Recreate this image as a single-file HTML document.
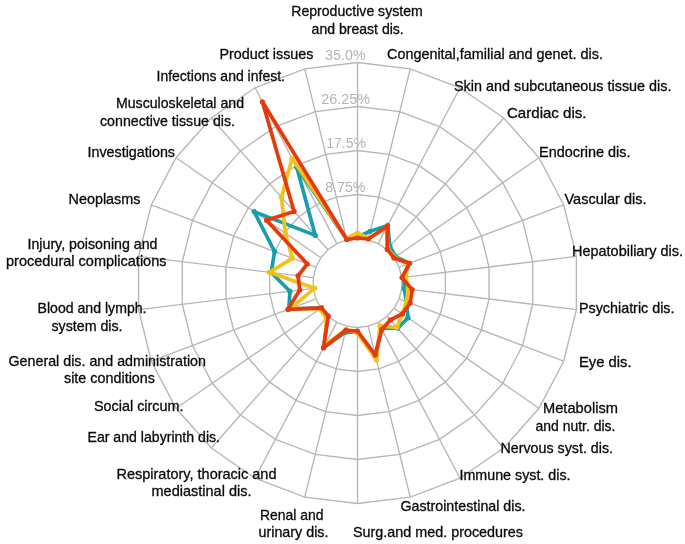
<!DOCTYPE html>
<html><head><meta charset="utf-8"><title>Radar chart</title>
<style>
html,body{margin:0;padding:0;background:#fff;}
body{width:685px;height:544px;overflow:hidden;}
svg{display:block;filter:blur(0.45px);}
text{font-family:"Liberation Sans",Arial,sans-serif;}
.lab{font-size:14.3px;fill:#0a0a0a;stroke:#0a0a0a;stroke-width:0.3px;}
.tick{font-size:14.3px;fill:#b4b4b4;}
</style></head><body>
<svg width="685" height="544" viewBox="0 0 685 544">
<rect width="685" height="544" fill="#ffffff"/>
<g fill="none" stroke="#b6b6b6" stroke-width="1.35">
<polygon points="357.50,238.50 368.15,239.79 378.18,243.60 387.01,249.69 394.12,257.72 399.11,267.22 401.68,277.64 401.68,288.36 399.11,298.78 394.12,308.28 387.01,316.31 378.18,322.40 368.15,326.21 357.50,327.50 346.85,326.21 336.82,322.40 327.99,316.31 320.88,308.28 315.89,298.78 313.32,288.36 313.32,277.64 315.89,267.22 320.88,257.72 327.99,249.69 336.82,243.60 346.85,239.79"/>
<polygon points="357.50,194.50 378.68,197.07 398.63,204.64 416.19,216.76 430.33,232.73 440.25,251.62 445.35,272.33 445.35,293.67 440.25,314.38 430.33,333.27 416.19,349.24 398.63,361.36 378.68,368.93 357.50,371.50 336.32,368.93 316.37,361.36 298.81,349.24 284.67,333.27 274.75,314.38 269.65,293.67 269.65,272.33 274.75,251.62 284.67,232.73 298.81,216.76 316.37,204.64 336.32,197.07"/>
<polygon points="357.50,150.50 389.21,154.35 419.08,165.68 445.36,183.82 466.55,207.73 481.39,236.01 489.03,267.03 489.03,298.97 481.39,329.99 466.55,358.27 445.36,382.18 419.08,400.32 389.21,411.65 357.50,415.50 325.79,411.65 295.92,400.32 269.64,382.18 248.45,358.27 233.61,329.99 225.97,298.97 225.97,267.03 233.61,236.01 248.45,207.73 269.64,183.82 295.92,165.68 325.79,154.35"/>
<polygon points="357.50,106.50 399.74,111.63 439.52,126.72 474.54,150.89 502.76,182.74 522.53,220.41 532.71,261.73 532.71,304.27 522.53,345.59 502.76,383.26 474.54,415.11 439.52,439.28 399.74,454.37 357.50,459.50 315.26,454.37 275.48,439.28 240.46,415.11 212.24,383.26 192.47,345.59 182.29,304.27 182.29,261.73 192.47,220.41 212.24,182.74 240.46,150.89 275.48,126.72 315.26,111.63"/>
<polygon points="357.50,62.50 410.27,68.91 459.97,87.76 503.72,117.95 538.97,157.74 563.67,204.81 576.39,256.42 576.39,309.58 563.67,361.19 538.97,408.26 503.72,448.05 459.97,478.24 410.27,497.09 357.50,503.50 304.73,497.09 255.03,478.24 211.28,448.05 176.03,408.26 151.33,361.19 138.61,309.58 138.61,256.42 151.33,204.81 176.03,157.74 211.28,117.95 255.03,87.76 304.73,68.91"/>
<line x1="357.50" y1="238.50" x2="357.50" y2="62.50"/>
<line x1="368.15" y1="239.79" x2="410.27" y2="68.91"/>
<line x1="378.18" y1="243.60" x2="459.97" y2="87.76"/>
<line x1="387.01" y1="249.69" x2="503.72" y2="117.95"/>
<line x1="394.12" y1="257.72" x2="538.97" y2="157.74"/>
<line x1="399.11" y1="267.22" x2="563.67" y2="204.81"/>
<line x1="401.68" y1="277.64" x2="576.39" y2="256.42"/>
<line x1="401.68" y1="288.36" x2="576.39" y2="309.58"/>
<line x1="399.11" y1="298.78" x2="563.67" y2="361.19"/>
<line x1="394.12" y1="308.28" x2="538.97" y2="408.26"/>
<line x1="387.01" y1="316.31" x2="503.72" y2="448.05"/>
<line x1="378.18" y1="322.40" x2="459.97" y2="478.24"/>
<line x1="368.15" y1="326.21" x2="410.27" y2="497.09"/>
<line x1="357.50" y1="327.50" x2="357.50" y2="503.50"/>
<line x1="346.85" y1="326.21" x2="304.73" y2="497.09"/>
<line x1="336.82" y1="322.40" x2="255.03" y2="478.24"/>
<line x1="327.99" y1="316.31" x2="211.28" y2="448.05"/>
<line x1="320.88" y1="308.28" x2="176.03" y2="408.26"/>
<line x1="315.89" y1="298.78" x2="151.33" y2="361.19"/>
<line x1="313.32" y1="288.36" x2="138.61" y2="309.58"/>
<line x1="313.32" y1="277.64" x2="138.61" y2="256.42"/>
<line x1="315.89" y1="267.22" x2="151.33" y2="204.81"/>
<line x1="320.88" y1="257.72" x2="176.03" y2="157.74"/>
<line x1="327.99" y1="249.69" x2="211.28" y2="117.95"/>
<line x1="336.82" y1="243.60" x2="255.03" y2="87.76"/>
<line x1="346.85" y1="239.79" x2="304.73" y2="68.91"/>
</g>
<path d="M357.5 237.0 L370.2 231.3 L387.7 225.4 L389.9 246.4 L395.6 256.7 L409.5 263.3 L404.0 277.4 L404.3 288.7 L406.4 301.5 L408.0 317.9 L397.6 328.2 L381.4 328.5 L375.3 355.1 L357.5 332.0 L345.4 332.3 L323.8 347.1 L327.6 316.7 L321.5 307.9 L288.9 309.0 L289.9 291.2 L271.2 272.5 L274.6 251.5 L254.1 211.6 L315.3 235.4 L296.8 167.3 L346.8 239.5 Z" fill="none" stroke="#169eaa" stroke-width="3.7" stroke-linejoin="round"/>
<g fill="#169eaa"><circle cx="357.5" cy="237.0" r="2.6"/><circle cx="370.2" cy="231.3" r="2.6"/><circle cx="387.7" cy="225.4" r="2.6"/><circle cx="389.9" cy="246.4" r="2.6"/><circle cx="395.6" cy="256.7" r="2.6"/><circle cx="409.5" cy="263.3" r="2.6"/><circle cx="404.0" cy="277.4" r="2.6"/><circle cx="404.3" cy="288.7" r="2.6"/><circle cx="406.4" cy="301.5" r="2.6"/><circle cx="408.0" cy="317.9" r="2.6"/><circle cx="397.6" cy="328.2" r="2.6"/><circle cx="381.4" cy="328.5" r="2.6"/><circle cx="375.3" cy="355.1" r="2.6"/><circle cx="357.5" cy="332.0" r="2.6"/><circle cx="345.4" cy="332.3" r="2.6"/><circle cx="323.8" cy="347.1" r="2.6"/><circle cx="327.6" cy="316.7" r="2.6"/><circle cx="321.5" cy="307.9" r="2.6"/><circle cx="288.9" cy="309.0" r="2.6"/><circle cx="289.9" cy="291.2" r="2.6"/><circle cx="271.2" cy="272.5" r="2.6"/><circle cx="274.6" cy="251.5" r="2.6"/><circle cx="254.1" cy="211.6" r="2.6"/><circle cx="315.3" cy="235.4" r="2.6"/><circle cx="296.8" cy="167.3" r="2.6"/><circle cx="346.8" cy="239.5" r="2.6"/></g>
<path d="M357.5 233.0 L368.6 238.1 L386.3 228.0 L387.9 248.6 L394.7 257.3 L407.6 264.0 L406.0 277.1 L408.2 289.2 L406.4 301.5 L402.3 313.9 L396.9 327.5 L380.0 325.8 L376.5 359.9 L357.5 333.0 L346.1 329.3 L324.8 345.4 L326.3 318.2 L319.9 309.0 L290.7 308.3 L314.7 288.2 L269.3 272.3 L292.3 258.3 L285.4 233.2 L281.5 197.2 L292.1 158.5 L346.5 238.5 Z" fill="none" stroke="#f0c21c" stroke-width="3.7" stroke-linejoin="round"/>
<g fill="#f0c21c"><circle cx="357.5" cy="233.0" r="2.6"/><circle cx="368.6" cy="238.1" r="2.6"/><circle cx="386.3" cy="228.0" r="2.6"/><circle cx="387.9" cy="248.6" r="2.6"/><circle cx="394.7" cy="257.3" r="2.6"/><circle cx="407.6" cy="264.0" r="2.6"/><circle cx="406.0" cy="277.1" r="2.6"/><circle cx="408.2" cy="289.2" r="2.6"/><circle cx="406.4" cy="301.5" r="2.6"/><circle cx="402.3" cy="313.9" r="2.6"/><circle cx="396.9" cy="327.5" r="2.6"/><circle cx="380.0" cy="325.8" r="2.6"/><circle cx="376.5" cy="359.9" r="2.6"/><circle cx="357.5" cy="333.0" r="2.6"/><circle cx="346.1" cy="329.3" r="2.6"/><circle cx="324.8" cy="345.4" r="2.6"/><circle cx="326.3" cy="318.2" r="2.6"/><circle cx="319.9" cy="309.0" r="2.6"/><circle cx="290.7" cy="308.3" r="2.6"/><circle cx="314.7" cy="288.2" r="2.6"/><circle cx="269.3" cy="272.3" r="2.6"/><circle cx="292.3" cy="258.3" r="2.6"/><circle cx="285.4" cy="233.2" r="2.6"/><circle cx="281.5" cy="197.2" r="2.6"/><circle cx="292.1" cy="158.5" r="2.6"/><circle cx="346.5" cy="238.5" r="2.6"/></g>
<path d="M357.5 238.0 L368.3 239.0 L387.3 226.3 L387.3 249.4 L393.9 257.9 L409.5 263.3 L402.0 277.6 L412.2 289.6 L410.1 303.0 L402.3 313.9 L390.3 320.0 L381.8 329.4 L375.3 355.1 L357.5 331.0 L345.8 330.3 L323.4 348.0 L328.3 316.0 L321.5 307.9 L287.9 309.4 L299.8 290.0 L298.0 275.8 L307.3 264.0 L266.5 220.2 L294.1 211.5 L262.4 101.8 L346.8 239.5 Z" fill="none" stroke="#e63a0c" stroke-width="3.7" stroke-linejoin="round"/>
<g fill="#e63a0c"><circle cx="357.5" cy="238.0" r="2.6"/><circle cx="368.3" cy="239.0" r="2.6"/><circle cx="387.3" cy="226.3" r="2.6"/><circle cx="387.3" cy="249.4" r="2.6"/><circle cx="393.9" cy="257.9" r="2.6"/><circle cx="409.5" cy="263.3" r="2.6"/><circle cx="402.0" cy="277.6" r="2.6"/><circle cx="412.2" cy="289.6" r="2.6"/><circle cx="410.1" cy="303.0" r="2.6"/><circle cx="402.3" cy="313.9" r="2.6"/><circle cx="390.3" cy="320.0" r="2.6"/><circle cx="381.8" cy="329.4" r="2.6"/><circle cx="375.3" cy="355.1" r="2.6"/><circle cx="357.5" cy="331.0" r="2.6"/><circle cx="345.8" cy="330.3" r="2.6"/><circle cx="323.4" cy="348.0" r="2.6"/><circle cx="328.3" cy="316.0" r="2.6"/><circle cx="321.5" cy="307.9" r="2.6"/><circle cx="287.9" cy="309.4" r="2.6"/><circle cx="299.8" cy="290.0" r="2.6"/><circle cx="298.0" cy="275.8" r="2.6"/><circle cx="307.3" cy="264.0" r="2.6"/><circle cx="266.5" cy="220.2" r="2.6"/><circle cx="294.1" cy="211.5" r="2.6"/><circle cx="262.4" cy="101.8" r="2.6"/><circle cx="346.8" cy="239.5" r="2.6"/></g>
<text class="lab" x="291.3" y="16.0" textLength="131.4" lengthAdjust="spacingAndGlyphs">Reproductive system</text>
<text class="lab" x="311.6" y="34.0" textLength="92.2" lengthAdjust="spacingAndGlyphs">and breast dis.</text>
<text class="lab" x="219.4" y="59.2" textLength="94.1" lengthAdjust="spacingAndGlyphs">Product issues</text>
<text class="lab" x="387.0" y="59.4" textLength="216.0" lengthAdjust="spacingAndGlyphs">Congenital,familial and genet. dis.</text>
<text class="lab" x="156.5" y="81.0" textLength="128.5" lengthAdjust="spacingAndGlyphs">Infections and infest.</text>
<text class="lab" x="454.0" y="90.5" textLength="217.5" lengthAdjust="spacingAndGlyphs">Skin and subcutaneous tissue dis.</text>
<text class="lab" x="116.0" y="107.8" textLength="128.0" lengthAdjust="spacingAndGlyphs">Musculoskeletal and</text>
<text class="lab" x="100.0" y="125.5" textLength="135.0" lengthAdjust="spacingAndGlyphs">connective tissue dis.</text>
<text class="lab" x="507.0" y="117.5" textLength="79.5" lengthAdjust="spacingAndGlyphs">Cardiac dis.</text>
<text class="lab" x="87.5" y="156.5" textLength="87.5" lengthAdjust="spacingAndGlyphs">Investigations</text>
<text class="lab" x="539.0" y="157.1" textLength="91.5" lengthAdjust="spacingAndGlyphs">Endocrine dis.</text>
<text class="lab" x="68.5" y="204.0" textLength="72.0" lengthAdjust="spacingAndGlyphs">Neoplasms</text>
<text class="lab" x="564.5" y="204.0" textLength="82.0" lengthAdjust="spacingAndGlyphs">Vascular dis.</text>
<text class="lab" x="27.5" y="248.5" textLength="130.0" lengthAdjust="spacingAndGlyphs">Injury, poisoning and</text>
<text class="lab" x="6.0" y="266.0" textLength="160.5" lengthAdjust="spacingAndGlyphs">procedural complications</text>
<text class="lab" x="572.0" y="255.5" textLength="111.0" lengthAdjust="spacingAndGlyphs">Hepatobiliary dis.</text>
<text class="lab" x="37.5" y="312.5" textLength="109.0" lengthAdjust="spacingAndGlyphs">Blood and lymph.</text>
<text class="lab" x="51.5" y="330.5" textLength="71.0" lengthAdjust="spacingAndGlyphs">system dis.</text>
<text class="lab" x="579.0" y="312.5" textLength="95.5" lengthAdjust="spacingAndGlyphs">Psychiatric dis.</text>
<text class="lab" x="8.5" y="366.0" textLength="197.5" lengthAdjust="spacingAndGlyphs">General dis. and administration</text>
<text class="lab" x="64.0" y="382.5" textLength="91.0" lengthAdjust="spacingAndGlyphs">site conditions</text>
<text class="lab" x="579.0" y="366.5" textLength="52.5" lengthAdjust="spacingAndGlyphs">Eye dis.</text>
<text class="lab" x="94.0" y="411.0" textLength="89.5" lengthAdjust="spacingAndGlyphs">Social circum.</text>
<text class="lab" x="543.0" y="413.0" textLength="75.0" lengthAdjust="spacingAndGlyphs">Metabolism</text>
<text class="lab" x="535.5" y="430.5" textLength="80.0" lengthAdjust="spacingAndGlyphs">and nutr. dis.</text>
<text class="lab" x="87.5" y="441.5" textLength="132.5" lengthAdjust="spacingAndGlyphs">Ear and labyrinth dis.</text>
<text class="lab" x="500.5" y="452.5" textLength="112.5" lengthAdjust="spacingAndGlyphs">Nervous syst. dis.</text>
<text class="lab" x="116.5" y="478.5" textLength="160.0" lengthAdjust="spacingAndGlyphs">Respiratory, thoracic and</text>
<text class="lab" x="151.5" y="495.5" textLength="100.0" lengthAdjust="spacingAndGlyphs">mediastinal dis.</text>
<text class="lab" x="459.5" y="479.5" textLength="111.0" lengthAdjust="spacingAndGlyphs">Immune syst. dis.</text>
<text class="lab" x="400.5" y="510.5" textLength="125.0" lengthAdjust="spacingAndGlyphs">Gastrointestinal dis.</text>
<text class="lab" x="260.0" y="520.0" textLength="63.5" lengthAdjust="spacingAndGlyphs">Renal and</text>
<text class="lab" x="258.5" y="536.5" textLength="70.0" lengthAdjust="spacingAndGlyphs">urinary dis.</text>
<text class="lab" x="353.0" y="536.5" textLength="170.0" lengthAdjust="spacingAndGlyphs">Surg.and med. procedures</text>
<text class="tick" x="325.0" y="60.0" textLength="40.7" lengthAdjust="spacingAndGlyphs">35.0%</text>
<text class="tick" x="321.3" y="104.2" textLength="48.9" lengthAdjust="spacingAndGlyphs">26.25%</text>
<text class="tick" x="326.2" y="147.6" textLength="39.8" lengthAdjust="spacingAndGlyphs">17.5%</text>
<text class="tick" x="325.2" y="192.3" textLength="40.3" lengthAdjust="spacingAndGlyphs">8.75%</text>
</svg>
</body></html>
